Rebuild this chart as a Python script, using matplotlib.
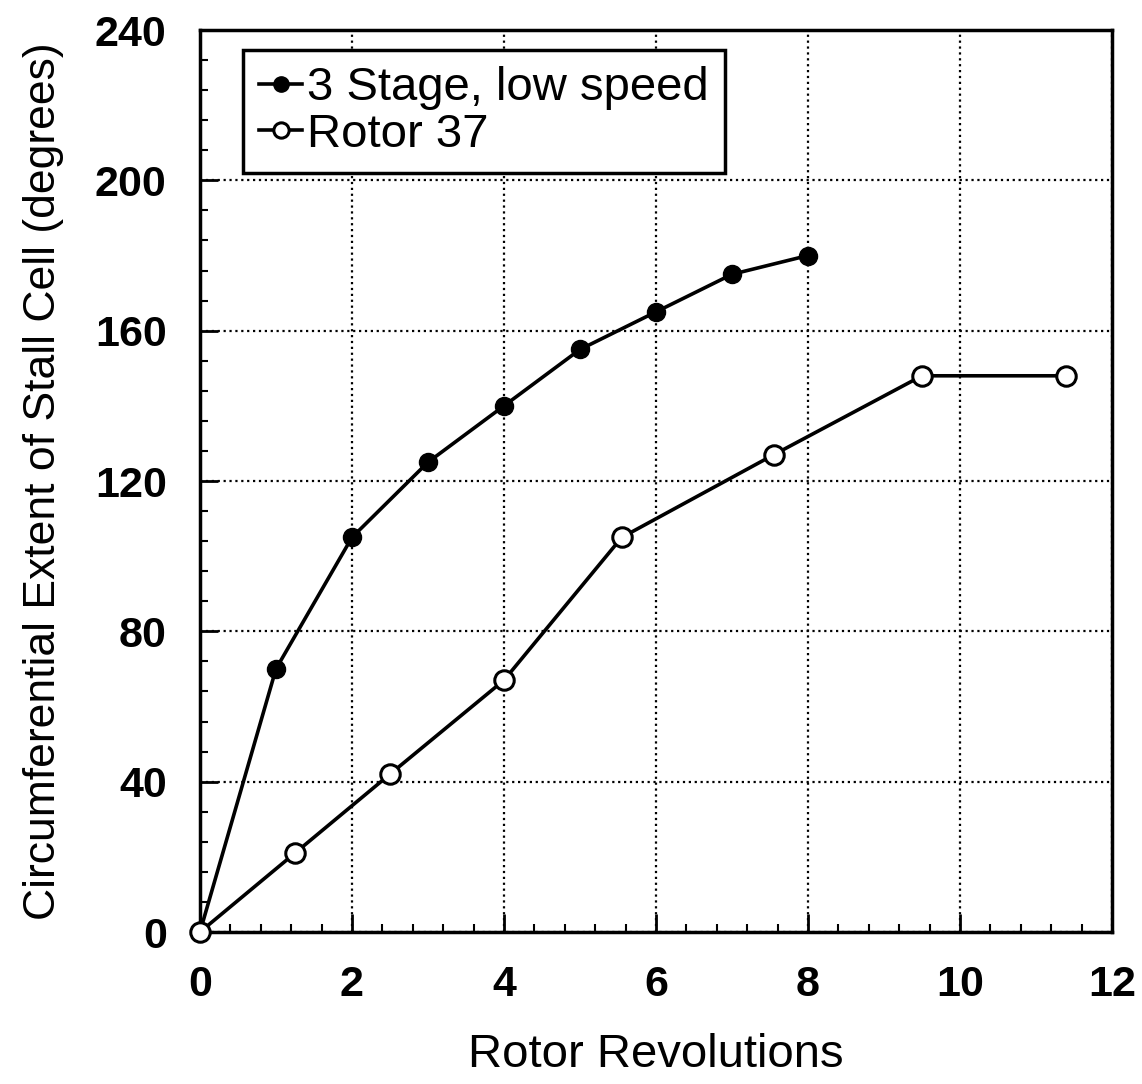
import matplotlib.pyplot as plt
from matplotlib.ticker import MultipleLocator

plt.rcParams['font.family'] = ['Liberation Sans', 'DejaVu Sans']

# 3 Stage, low speed
rev_3stage = [0, 1, 2, 3, 4, 5, 6, 7, 8]
ext_3stage = [0, 70, 105, 125, 140, 155, 165, 175, 180]

# Rotor 37
rev_r37 = [0, 1.25, 2.5, 4, 5.55, 7.55, 9.5, 11.4]
ext_r37 = [0, 21, 42, 67, 105, 127, 148, 148]

fig = plt.figure(figsize=(11.42, 10.84), dpi=100)
ax = fig.add_axes([0.1751, 0.1402, 0.7986, 0.8321])

ax.plot(rev_3stage, ext_3stage, color='black', lw=2.6, marker='o', ms=13,
        mfc='black', mec='black', label='3 Stage, low speed', zorder=3)
ax.plot(rev_r37, ext_r37, color='black', lw=2.6, marker='o', ms=14,
        mfc='white', mec='black', mew=2.2, label='Rotor 37', zorder=4,
        clip_on=False)

ax.set_xlim(0, 12)
ax.set_ylim(0, 240)
ax.xaxis.set_major_locator(MultipleLocator(2))
ax.xaxis.set_minor_locator(MultipleLocator(0.4))
ax.yaxis.set_major_locator(MultipleLocator(40))
ax.yaxis.set_minor_locator(MultipleLocator(8))
ax.tick_params(which='both', direction='in', top=False, right=False)
ax.tick_params(which='major', length=13, width=2, labelsize=31, pad=24)
ax.tick_params(which='minor', length=6, width=1.5)
for lab in ax.get_xticklabels() + ax.get_yticklabels():
    lab.set_fontweight('bold')
ax.grid(True, which='major', linestyle=':', color='black', lw=1.6)
for s in ax.spines.values():
    s.set_linewidth(2.5)

ax.set_xlabel('Rotor Revolutions', fontsize=34, labelpad=20)
ax.set_ylabel('Circumferential Extent of Stall Cell (degrees)', fontsize=32, labelpad=22)

leg = ax.legend(loc='upper left', bbox_to_anchor=(0.047, 0.978), fontsize=34,
                frameon=True, fancybox=False, edgecolor='black', framealpha=1,
                handlelength=0.9, handletextpad=0.1, borderpad=0.35,
                labelspacing=0.05, borderaxespad=0)
leg.get_frame().set_linewidth(2.5)
for h in leg.legend_handles:
    h.set_markersize(11)

fig.savefig('out.png', dpi=100)
